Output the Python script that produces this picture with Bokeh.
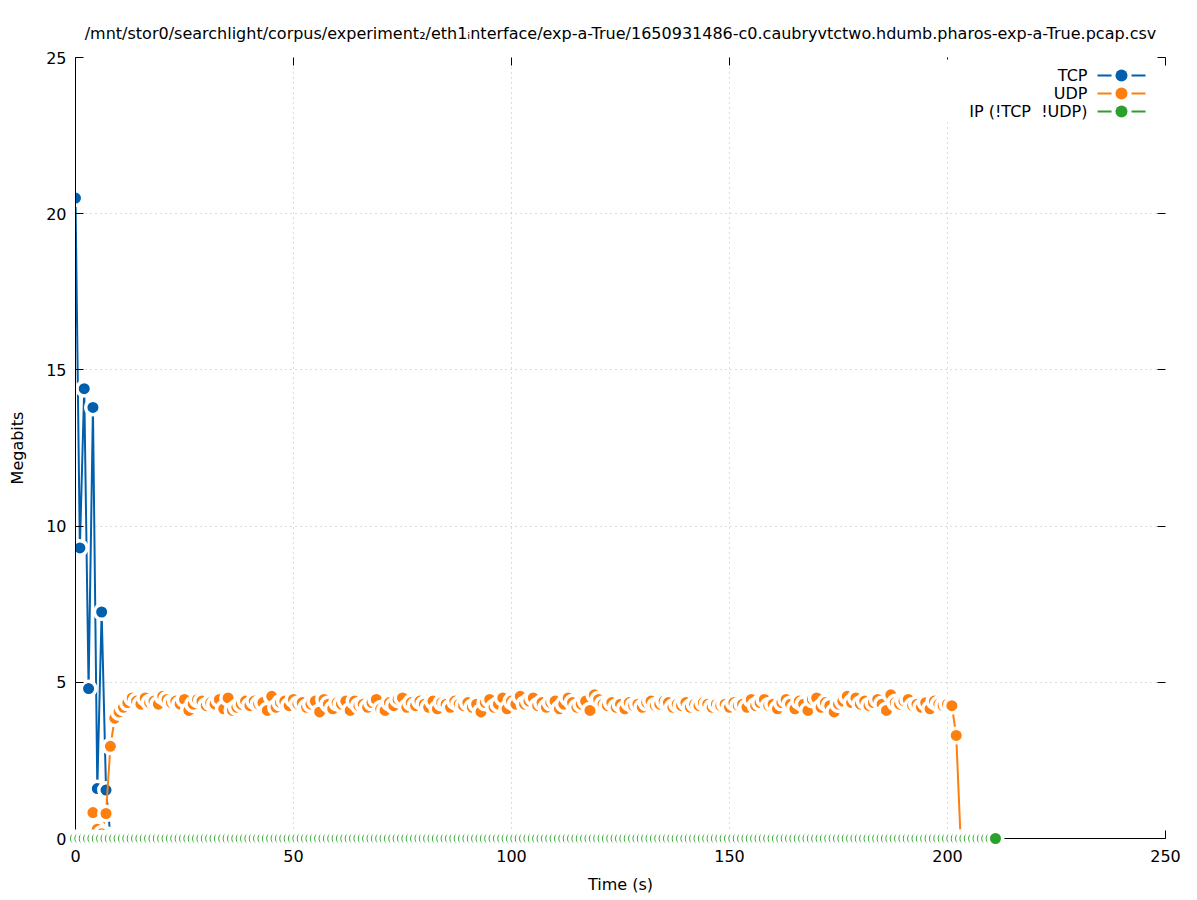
from bokeh.plotting import figure
from bokeh.models import Range1d, LinearAxis, FixedTicker, Label, BoxAnnotation
from bokeh.embed import file_html
from bokeh.resources import INLINE

TITLE = ("/mnt/stor0/searchlight/corpus/experiment\u2082/eth1\u1d62nterface/exp-a-True/"
         "1650931486-c0.caubryvtctwo.hdumb.pharos-exp-a-True.pcap.csv")

x_ticks = [0, 50, 100, 150, 200, 250]
y_ticks = [0, 5, 10, 15, 20, 25]

tcp_t = [0, 1, 2, 3, 4, 5, 6, 7, 8]
tcp_v = [20.5, 9.3, 14.4, 4.8, 13.8, 1.6, 7.25, 1.55, 0.1]

udp_v = [
    0.83, 0.3, 0.15, 0.8, 2.95, 3.85,                              # t 4-9
    4.05, 4.2, 4.35, 4.5, 4.4, 4.3, 4.5, 4.35, 4.4, 4.3,           # 10-19
    4.55, 4.45, 4.35, 4.4, 4.3, 4.45, 4.1, 4.3, 4.45, 4.4,         # 20-29
    4.25, 4.35, 4.3, 4.45, 4.15, 4.5, 4.1, 4.2, 4.3, 4.4,          # 30-39
    4.25, 4.4, 4.3, 4.35, 4.1, 4.55, 4.2, 4.35, 4.4, 4.25,         # 40-49
    4.45, 4.3, 4.35, 4.2, 4.3, 4.4, 4.05, 4.45, 4.3, 4.15,         # 50-59
    4.35, 4.3, 4.4, 4.1, 4.4, 4.25, 4.3, 4.2, 4.35, 4.45,          # 60-69
    4.15, 4.1, 4.35, 4.25, 4.45, 4.5, 4.2, 4.35, 4.25, 4.4,        # 70-79
    4.3, 4.2, 4.4, 4.15, 4.35, 4.3, 4.2, 4.4, 4.3, 4.25,           # 80-89
    4.35, 4.2, 4.3, 4.05, 4.35, 4.45, 4.2, 4.3, 4.5, 4.15,         # 90-99
    4.4, 4.3, 4.55, 4.3, 4.4, 4.5, 4.25, 4.35, 4.2, 4.35,          # 100-109
    4.4, 4.15, 4.3, 4.5, 4.35, 4.2, 4.3, 4.4, 4.1, 4.6,            # 110-119
    4.45, 4.3, 4.25, 4.35, 4.2, 4.3, 4.15, 4.35, 4.25, 4.3,        # 120-129
    4.2, 4.35, 4.4, 4.25, 4.3, 4.4, 4.35, 4.2, 4.3, 4.25,          # 130-139
    4.35, 4.2, 4.3, 4.25, 4.35, 4.3, 4.2, 4.3, 4.25, 4.3,          # 140-149
    4.2, 4.35, 4.25, 4.3, 4.2, 4.45, 4.25, 4.35, 4.45, 4.25,       # 150-159
    4.3, 4.15, 4.35, 4.45, 4.3, 4.15, 4.4, 4.3, 4.1, 4.45,         # 160-169
    4.5, 4.2, 4.35, 4.25, 4.05, 4.3, 4.4, 4.55, 4.35, 4.5,         # 170-179
    4.3, 4.4, 4.25, 4.35, 4.45, 4.3, 4.1, 4.6, 4.35, 4.3,          # 180-189
    4.4, 4.45, 4.25, 4.3, 4.2, 4.35, 4.15, 4.4, 4.3, 4.25,         # 190-199
    4.3, 4.25, 3.3, 0.0,                                           # 200-203
]
udp_t = list(range(4, 4 + len(udp_v)))

ip_t = list(range(0, 212))
ip_v = [0.0] * len(ip_t)

names = ["TCP", "UDP", "IP (!TCP \u00a0!UDP)"]
colors = ["#0060ad", "#ff7f0e", "#2ca02c"]

FONT = "DejaVu Sans"
FS = "16px"

p = figure(width=1190, height=900, x_range=Range1d(0, 250), y_range=Range1d(0, 25),
           output_backend="svg", toolbar_location=None, title=TITLE,
           min_border_left=75, min_border_right=25, min_border_top=57, min_border_bottom=62)

p.title.text_font = FONT
p.title.text_font_size = FS
p.title.text_font_style = "normal"
p.title.align = "center"
p.title.text_color = "black"
p.title.standoff = 30
p.outline_line_color = None
p.background_fill_color = "white"

top_axis = LinearAxis()
right_axis = LinearAxis()
p.add_layout(top_axis, "above")
p.add_layout(right_axis, "right")

bottom_axis = p.below[0]
left_axis = p.left[0]

bottom_axis.ticker = FixedTicker(ticks=x_ticks)
top_axis.ticker = FixedTicker(ticks=x_ticks)
left_axis.ticker = FixedTicker(ticks=y_ticks)
right_axis.ticker = FixedTicker(ticks=y_ticks)

for ax in (bottom_axis, top_axis, left_axis, right_axis):
    ax.major_tick_in = 8
    ax.major_tick_out = 0
    ax.minor_tick_line_color = None
    ax.major_tick_line_color = "black"
    ax.axis_line_color = "black"
    ax.major_label_text_font = FONT
    ax.major_label_text_font_size = FS
    ax.major_label_text_color = "black"
    ax.axis_label_text_font = FONT
    ax.axis_label_text_font_size = FS
    ax.axis_label_text_font_style = "normal"
    ax.axis_label_text_color = "black"

top_axis.axis_line_color = None
right_axis.axis_line_color = None
top_axis.major_label_overrides = {t: "" for t in x_ticks}
right_axis.major_label_overrides = {t: "" for t in y_ticks}
top_axis.major_label_standoff = 0
right_axis.major_label_standoff = 0

bottom_axis.axis_label = "Time (s)"
left_axis.axis_label = "Megabits"
bottom_axis.major_label_standoff = 11
bottom_axis.axis_label_standoff = 10
left_axis.major_label_standoff = 9
left_axis.axis_label_standoff = 16

for g in (p.xgrid, p.ygrid):
    g.grid_line_color = "#b8b8b8"
    g.grid_line_dash = "1 4"
    g.grid_line_width = 1
p.xgrid.ticker = FixedTicker(ticks=x_ticks)
p.ygrid.ticker = FixedTicker(ticks=y_ticks)

for name, col, tt, vv in zip(names, colors, [tcp_t, udp_t, ip_t], [tcp_v, udp_v, ip_v]):
    p.line(tt, vv, line_color=col, line_width=2)
    sc = p.scatter(tt, vv, size=14.5, fill_color=col, line_color="white", line_width=3.5)
    if name.startswith("IP"):
        sc.level = "overlay"


def screen_box(l, r, t, b, **kw):
    return BoxAnnotation(left=l, right=r, top=t, bottom=b,
                         left_units="screen", right_units="screen",
                         top_units="screen", bottom_units="screen", line_color=None,
                         fill_alpha=1.0, **kw)


# key (screen units, measured from the frame's lower-left corner):
# text on the left, sample on the right, as in the reference
p.add_layout(screen_box(870, 1088, 779, 716, fill_color="white"))
row_y = [763, 745, 727]
for name, col, yy in zip(names, colors, row_y):
    p.add_layout(Label(x=1012, y=yy, x_units="screen", y_units="screen", text=name,
                       text_align="right", text_baseline="middle",
                       text_font=FONT, text_font_size=FS, text_color="black"))
    for l, r in ((1022, 1036), (1056, 1070)):
        p.add_layout(screen_box(l, r, yy + 1, yy - 1, fill_color=col))
    p.add_layout(screen_box(1040, 1052, yy + 6, yy - 6, fill_color=col, border_radius=6))

open("out.html", "w").write(file_html(p, INLINE))
